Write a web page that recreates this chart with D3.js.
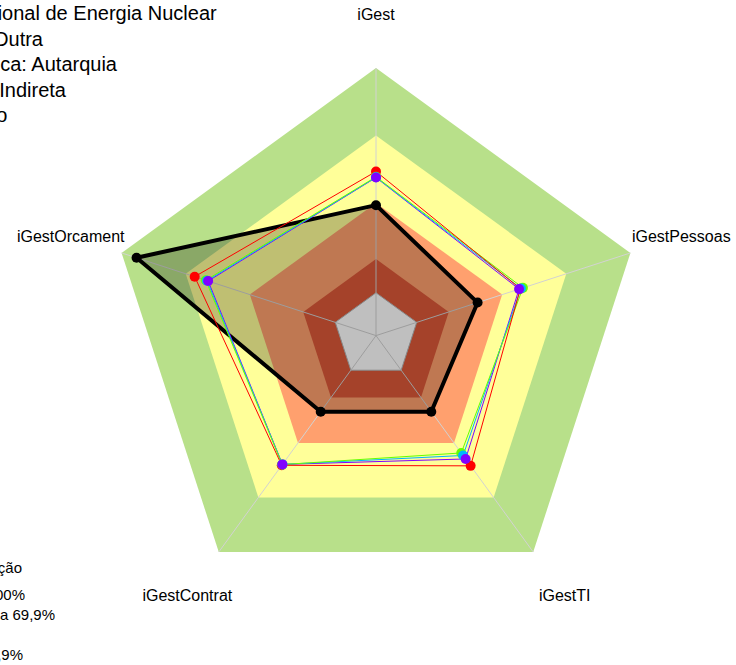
<!DOCTYPE html>
<html>
<head>
<meta charset="utf-8">
<script src="https://cdn.jsdelivr.net/npm/d3@7"></script>
<style>
  body { margin: 0; background: #fff; }
  svg { display: block; font-family: "Liberation Sans", Arial, sans-serif; }
</style>
</head>
<body>
<svg id="chart" width="736" height="665"></svg>
<script>
// eixos do radar (sentido horario a partir do topo)
const axes = ["iGest", "iGestPessoas", "iGestTI", "iGestContrat", "iGestOrcament"];

// faixas de classificacao (limite superior, em %)
const bandLimits = [100, 70, 40, 15, 0];

// series
const orgValues = [39, 28.5, 22.8, 22.8, 93];
const redValues = [54, 48.5, 52.6, 52.3, 65.8];
const greenValues = [51.6, 49.7, 45.5, 51.9, 60.6];
const cyanValues = [51.4, 48.8, 46.9, 51.8, 60];
const purpleValues = [51.3, 47.9, 48.8, 51.8, 59.5];

// textos
const titleLines = [
    "Organização: Comissão Nacional de Energia Nuclear",
    "Segmento: Outra",
    "Natureza Jurídica: Autarquia",
    "Administração: Indireta",
    "Poder: Executivo"
];
const legendLines = [
    "Legenda: Classificação",
    "Aprimorado: 70% a 100%",
    "Intermediário: 40% a 69,9%",
    "Iniciando:",
    "Inexpressivo: 0% a 14,9%"
];

const bandColors = ["#b8e08a", "#ffff99", "#ffa06e", "#dc5838", "#ffffff"];

const svg = d3.select("#chart");
const cx = 376, cy = 335.6, R = 267.5;

const r = d3.scaleLinear().domain([0, 100]).range([R * 0.16, R]);
const angle = d3.scaleBand().domain(axes).range([0, 2 * Math.PI]).paddingInner(0).paddingOuter(0);

function pt(axis, v) {
    const a = angle(axis);
    return [cx + r(v) * Math.sin(a), cy - r(v) * Math.cos(a)];
}
function polyPoints(values) {
    return axes.map((a, i) => pt(a, values[i]).join(",")).join(" ");
}

// faixas
svg.selectAll("polygon.band")
    .data(bandLimits)
    .enter()
    .append("polygon")
    .attr("class", "band")
    .attr("points", d => polyPoints(axes.map(() => d)))
    .style("fill", (d, i) => bandColors[i])
    .style("stroke", (d, i) => d === 0 ? "#b5b5b5" : "none")
    .style("stroke-width", 1);

// eixos
svg.selectAll("line.axis")
    .data(axes)
    .enter()
    .append("line")
    .attr("x1", cx).attr("y1", cy)
    .attr("x2", d => pt(d, 100)[0])
    .attr("y2", d => pt(d, 100)[1])
    .style("stroke", "#d2d2d2")
    .style("stroke-width", 1);

// serie principal (preta, preenchida)
svg.append("polygon")
    .attr("points", polyPoints(orgValues))
    .style("fill", "rgba(0,0,0,0.25)")
    .style("stroke", "#000")
    .style("stroke-width", 4)
    .style("stroke-linejoin", "round");

const series = [
    { values: purpleValues, color: "#8000ff" },
    { values: cyanValues, color: "#00b4ff" },
    { values: greenValues, color: "#66ff00" },
    { values: redValues, color: "#ff0000" }
];

series.forEach(s => {
    svg.append("polygon")
        .attr("points", polyPoints(s.values))
        .style("fill", "none")
        .style("stroke", s.color)
        .style("stroke-width", 1);
});

[series[3], series[2], series[1], series[0]].forEach(s => {
    svg.selectAll(null)
        .data(axes)
        .enter()
        .append("circle")
        .attr("cx", (d, i) => pt(d, s.values[i])[0])
        .attr("cy", (d, i) => pt(d, s.values[i])[1])
        .attr("r", 5)
        .style("fill", s.color);
});

svg.selectAll(null)
    .data(axes)
    .enter()
    .append("circle")
    .attr("cx", (d, i) => pt(d, orgValues[i])[0])
    .attr("cy", (d, i) => pt(d, orgValues[i])[1])
    .attr("r", 5)
    .style("fill", "#000");

// rotulos dos eixos
svg.selectAll("text.axis")
    .data(axes)
    .enter()
    .append("text")
    .attr("x", d => cx + R * 1.2 * Math.sin(angle(d)))
    .attr("y", d => cy - R * 1.2 * Math.cos(angle(d)) + 5.5)
    .attr("text-anchor", "middle")
    .style("font-size", "16px")
    .text(d => d);

// titulo (cortado a esquerda, como no original)
const titleEnds = [216.7, 43, 117, 66, 7.5];
svg.selectAll("text.title")
    .data(titleLines)
    .enter()
    .append("text")
    .attr("x", (d, i) => titleEnds[i])
    .attr("y", (d, i) => 20 + i * 25.5)
    .attr("text-anchor", "end")
    .style("font-size", "20px")
    .text(d => d);

// legenda (cortada a esquerda, como no original)
const legendEnds = [22, 25, 55, -4, 23];
const legendY = [573, 600, 620, 640, 660];
svg.selectAll("text.legend")
    .data(legendLines)
    .enter()
    .append("text")
    .attr("x", (d, i) => legendEnds[i])
    .attr("y", (d, i) => legendY[i])
    .attr("text-anchor", "end")
    .style("font-size", "15px")
    .text(d => d);
</script>
</body>
</html>
